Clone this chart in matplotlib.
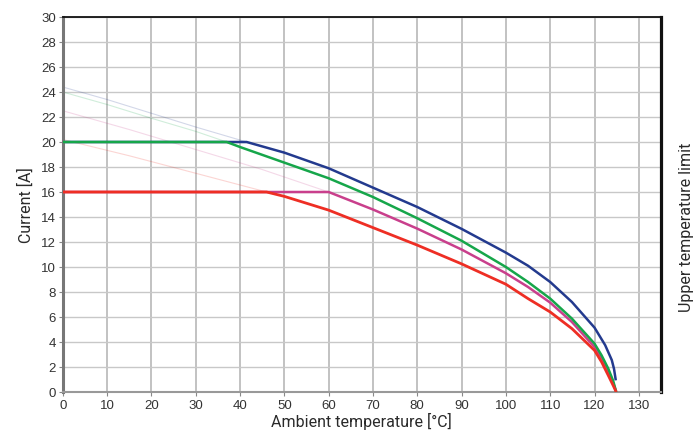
import numpy as np
import matplotlib
matplotlib.use("Agg")
import matplotlib.pyplot as plt

plt.rcParams['font.family'] = ['Liberation Sans', 'DejaVu Sans']

# values
# solid derating curves (temperature in degC, current in A)
blue_t = [0, 41.5, 50, 60, 70, 80, 90, 100, 105, 110, 114.9, 120, 122.4, 123.9, 124.4, 124.8]
blue_i = [20, 20, 19.15, 17.9, 16.35, 14.8, 13.05, 11.15, 10.1, 8.8, 7.2, 5.15, 3.75, 2.55, 1.85, 0.93]

green_t = [0, 37, 40, 50, 60, 70, 80, 90, 100, 105, 110, 114.9, 120, 121.6, 123.1, 124.2, 124.9]
green_i = [20, 20, 19.6, 18.35, 17.1, 15.6, 13.9, 12.1, 10.0, 8.8, 7.47, 5.87, 3.87, 2.93, 1.87, 0.9, 0]

magenta_t = [0, 60, 70, 80, 90, 100, 105, 110, 114.9, 120, 121.6, 123.1, 124.2, 124.9]
magenta_i = [16, 16, 14.6, 13.07, 11.4, 9.5, 8.4, 7.15, 5.6, 3.6, 2.75, 1.7, 0.75, 0]

red_t = [0, 46, 50, 60, 70, 80, 90, 100, 105, 110, 114.9, 120, 121.6, 123.1, 124.2, 124.9]
red_i = [16, 16, 15.65, 14.55, 13.15, 11.75, 10.25, 8.62, 7.47, 6.4, 5.07, 3.33, 2.4, 1.33, 0.53, 0]

# faint extensions of the curves back to 0 degC
blue_ext_t = [0, 10, 20, 30, 41.5]
blue_ext_i = [24.4, 23.4, 22.3, 21.2, 20]
green_ext_t = [0, 10, 20, 30, 37]
green_ext_i = [24.0, 23.0, 21.9, 20.85, 20]
magenta_ext_t = [0, 15, 30, 45, 60]
magenta_ext_i = [22.5, 21.0, 19.4, 17.8, 16]
red_ext_t = [0, 15, 30, 46]
red_ext_i = [20.2, 18.9, 17.5, 16]

x_ticks = np.arange(0, 131, 10)
y_ticks = np.arange(0, 31, 2)

c_blue = '#233a8e'
c_green = '#16a64a'
c_magenta = '#c93f8c'
c_red = '#ee2e24'

fig = plt.figure(figsize=(6.96, 4.39), dpi=100)
ax = fig.add_axes([0.0901, 0.1048, 0.8596, 0.8542])

# grid
for x in x_ticks[1:]:
    ax.axvline(x, color='#b8b8b8', lw=1.2, zorder=0)
for y in y_ticks[1:]:
    ax.axhline(y, color='#c8c8c8', lw=1.0, zorder=0)

# faint extensions
ax.plot(blue_ext_t, blue_ext_i, color=c_blue, lw=0.8, alpha=0.2, zorder=1)
ax.plot(green_ext_t, green_ext_i, color=c_green, lw=0.8, alpha=0.2, zorder=1)
ax.plot(magenta_ext_t, magenta_ext_i, color=c_magenta, lw=0.8, alpha=0.2, zorder=1)
ax.plot(red_ext_t, red_ext_i, color=c_red, lw=0.8, alpha=0.2, zorder=1)

# main curves
kw = dict(solid_capstyle='butt', solid_joinstyle='round')
ax.plot(blue_t, blue_i, color=c_blue, lw=1.8, zorder=2, **kw)
ax.plot(magenta_t, magenta_i, color=c_magenta, lw=1.8, zorder=3, **kw)
ax.plot(green_t, green_i, color=c_green, lw=1.8, zorder=4, **kw)
ax.plot(red_t, red_i, color=c_red, lw=2.0, zorder=5, **kw)

ax.set_xlim(0, 135)
ax.set_ylim(0, 30)
ax.set_xticks(x_ticks)
ax.set_yticks(y_ticks)
ax.tick_params(axis='both', length=3, width=0.8, color='#888888',
               labelsize=9.5, labelcolor='#333333', pad=2)

ax.spines['left'].set_color('#777777')
ax.spines['left'].set_linewidth(2.2)
ax.spines['bottom'].set_color('#999999')
ax.spines['bottom'].set_linewidth(1.5)
ax.spines['top'].set_color('#111111')
ax.spines['top'].set_linewidth(1.3)
ax.spines['right'].set_color('#111111')
ax.spines['right'].set_linewidth(2.3)

label_font = dict(family=['Roboto', 'Liberation Sans', 'DejaVu Sans'],
                  weight='normal', size=11.5, color='#2a2a2a')
ax.set_xlabel('Ambient temperature [°C]', labelpad=1, **label_font)
ax.set_ylabel('Current [A]', labelpad=5, **label_font)
fig.text(0.987, 0.483, 'Upper temperature limit', rotation=90,
         ha='center', va='center', **label_font)

fig.savefig('out.png', dpi=100)
